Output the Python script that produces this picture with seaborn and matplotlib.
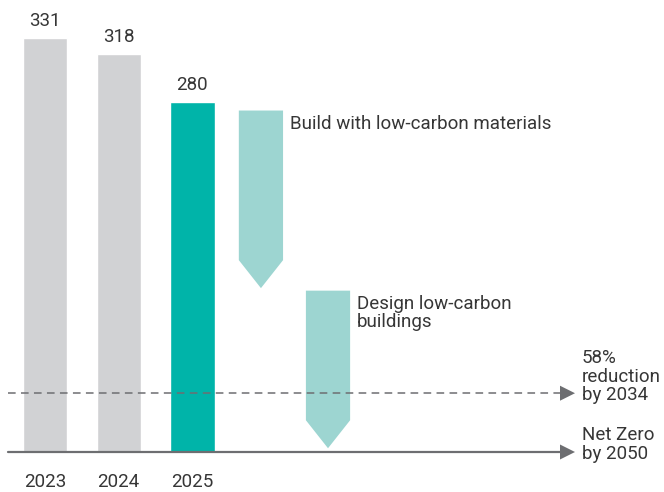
import matplotlib
matplotlib.use("Agg")
import matplotlib.pyplot as plt
import seaborn as sns
import pandas as pd

# Emissions by year
years = ["2023", "2024", "2025"]
emissions = [331, 318, 280]

# Reduction levers: start and end levels of each arrow
lever_labels = ["Build with low-carbon materials", "Design low-carbon\nbuildings"]
lever_start = [273, 129]
lever_end = [131, 3]
lever_pos = [2.93, 3.84]

# Targets
target_labels = ["58%\nreduction\nby 2034", "Net Zero\nby 2050"]
target_values = [47, 0]
target_styles = ["--", "-"]

GREY = "#d1d2d4"
TEAL = "#00b4a9"
LIGHT_TEAL = "#9dd5d1"
LINE = "#6d6e71"
TEXT = "#363636"
WEIGHT = "normal"

sns.set_theme(style="white")
plt.rcParams["font.family"] = ["Roboto", "DejaVu Sans"]

W, H = 664, 492
fig = plt.figure(figsize=(W / 100, H / 100), dpi=100)
base_px = 452
ax = fig.add_axes([0, (H - base_px) / H, 1, base_px / H])

px_per_x = 73.7
px_per_y = 1.2508
x0_px = 45

def dx(px):
    return px / px_per_x

def dy(px):
    return px / px_per_y

df = pd.DataFrame({"year": years, "value": emissions})
sns.barplot(data=df, x="year", y="value", hue="year",
            palette=[GREY, GREY, TEAL], width=0.6, legend=False,
            saturation=1, ax=ax, zorder=1)

ax.set_xlim(-x0_px / px_per_x, (W - x0_px) / px_per_x)
ax.set_ylim(0, base_px / px_per_y)

for i, v in enumerate(emissions):
    ax.text(i, v + dy(12), str(v), ha="center", va="baseline",
            fontsize=13.5, color=TEXT, fontweight=WEIGHT)

# Reduction arrows
half_w = 0.3
head = dy(28)
for x, top, end, lab in zip(lever_pos, lever_start, lever_end, lever_labels):
    shaft = end + head
    ax.fill([x - half_w, x + half_w, x + half_w, x, x - half_w],
            [top, top, shaft, end, shaft],
            color=LIGHT_TEAL, lw=0, zorder=2)
    ax.text(x + half_w + dx(7), top - dy(4), lab, ha="left", va="top",
            fontsize=13.5, color=TEXT, fontweight=WEIGHT, linespacing=1.05)

# Target lines with arrowheads
x_start = dx(8 - x0_px)
x_head = dx(560 - x0_px)
x_tip = dx(575 - x0_px)
for val, ls, lab in zip(target_values, target_styles, target_labels):
    lw = 1.1 if ls == "--" else 1.6
    ax.plot([x_start, x_head], [val, val], ls=ls, color=LINE, lw=lw,
            dashes=(5, 3.5) if ls == "--" else (None, None),
            zorder=3, clip_on=False)
    ax.fill([x_head, x_tip, x_head], [val + dy(7.5), val, val - dy(7.5)],
            color=LINE, lw=0, zorder=3, clip_on=False)
    ax.text(dx(581.5 - x0_px), val - dy(7), lab, ha="left", va="baseline",
            fontsize=13.5, color=TEXT, fontweight=WEIGHT, linespacing=1.05)

ax.set_xlabel("")
ax.set_ylabel("")
ax.set_yticks([])
ax.tick_params(axis="x", length=0, pad=15, labelsize=13.5, labelcolor=TEXT)
for s in ax.spines.values():
    s.set_visible(False)

fig.savefig("out.png", dpi=100)
